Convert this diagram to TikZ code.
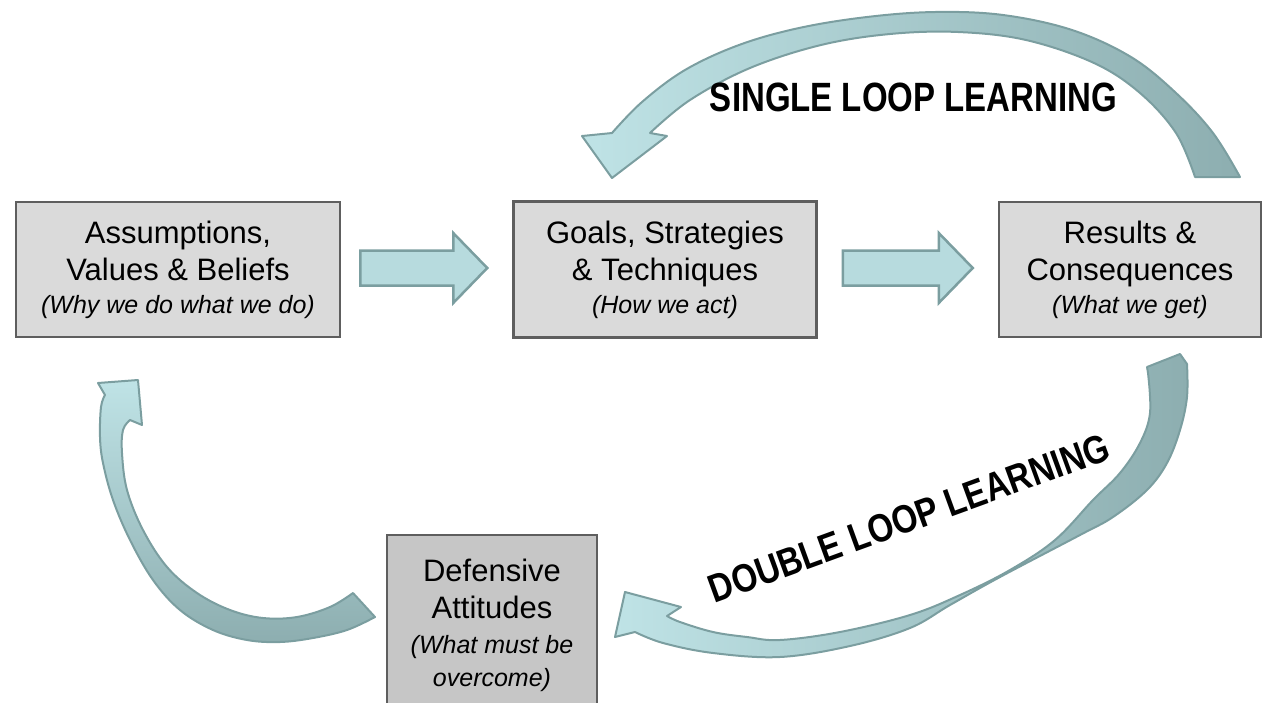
\documentclass[tikz,border=0pt]{standalone}
\usepackage{fontspec}
\setmainfont{Liberation Sans}
\usetikzlibrary{positioning,calc}

\definecolor{boxfill}{HTML}{DADADA}
\definecolor{boxfilldark}{HTML}{C6C6C6}
\definecolor{boxline}{HTML}{5E5E5E}
\definecolor{looplight}{HTML}{BFE3E6}
\definecolor{loopdark}{HTML}{8DAEB0}
\definecolor{loopline}{HTML}{7B9EA0}

\newcommand\subtext[1]{{\fontsize{25}{30}\selectfont\itshape #1}}
\newcommand\blockarrow[2]{%
  \draw[flow] ($(#1)+(0,-17.5)$) -- ($(#2)+(-34,-17.5)$) -- ($(#2)+(-34,-35)$)
    -- (#2) -- ($(#2)+(-34,35)$) -- ($(#2)+(-34,17.5)$) -- ($(#1)+(0,17.5)$) -- cycle;}

\begin{document}
\begin{tikzpicture}[x=1pt,y=-1pt,
  box/.style={draw=boxline, line width=2.5pt, fill=boxfill, align=center,
    inner sep=0pt, font=\fontsize{31}{37}\selectfont},
  flow/.style={draw=loopline, fill=looplight!85!loopdark, line width=2.5pt},
  bigloop/.style={draw=loopline, line width=2pt, line join=round},
  looplabel/.style={font=\bfseries\fontsize{33}{33}\selectfont, inner sep=0pt}]

\useasboundingbox (0,0) rectangle (1263,702);

% boxes
\node[box, minimum width=324pt, minimum height=135pt] (ass) at (178,269.5)
  {Assumptions,\\Values \& Beliefs\\[-4pt]\subtext{(Why we do what we do)}};
\node[box, minimum width=303pt, minimum height=136pt, right=171pt of ass] (goals)
  {Goals, Strategies\\\& Techniques\\[-4pt]\subtext{(How we act)}};
\node[box, minimum width=262pt, minimum height=135pt, right=180pt of goals] (res)
  {Results \&\\Consequences\\[-4pt]\subtext{(What we get)}};
\node[box, fill=boxfilldark, minimum width=210pt, minimum height=180pt] (def) at (492,625)
  {Defensive\\Attitudes\\[-2pt]\subtext{(What must be}\\[-4pt]\subtext{overcome)}};

% straight arrows
\coordinate (f1s) at ($(ass.east)+(19,-1.5)$);
\coordinate (f1e) at ($(goals.west)+(-25,-1.5)$);
\coordinate (f2s) at ($(goals.east)+(25,-1.5)$);
\coordinate (f2e) at ($(res.west)+(-25,-1.5)$);
\blockarrow{f1s}{f1e}
\blockarrow{f2s}{f2e}

% single loop: results -> goals
\draw[bigloop, left color=looplight, right color=loopdark]
  (1240,177) -- plot[smooth, tension=0.6] coordinates {(1240,177) (1213,133) (1176,93)
    (1131,57) (1072,30) (1003,15) (935,12) (867,17) (799,28) (739,45) (685,70) (642,102) (612,133)}
  -- (582,136) -- (612,178) -- (667,136) -- (650,133)
  -- plot[smooth, tension=0.6] coordinates {(650,133) (690,100) (750,68) (821,45)
    (890,34) (958,32) (1026,40) (1094,63) (1140,93) (1176,133) (1195,177)}
  -- cycle;
\node[looplabel] (single) at (913.5,97.5) {\scalebox{1}[1.24]{SINGLE LOOP LEARNING}};

% double loop: results -> defensive attitudes
\draw[bigloop, left color=looplight, right color=loopdark]
  (1180,354) -- plot[smooth, tension=0.6] coordinates {(1187,364) (1187,397) (1180,430)
    (1167,463) (1147,490) (1113,517) (1080,535) (1000,577) (950,605) (910,628) (850,646)
    (780,657) (713,653) (663,643) (635,632)}
  -- (615,637) -- (625,592) -- (681,607) -- (667,616)
  -- plot[smooth, tension=0.6] coordinates {(667,616) (680,622) (713,632) (747,637)
    (780,640) (840,632) (910,615) (960,595) (1010,570) (1055,540) (1093,500) (1120,473)
    (1140,443) (1150,413) (1148,373)}
  -- (1147,367) -- cycle;
\node[looplabel, rotate=20] (double) at (909,518) {\scalebox{1}[1.2]{DOUBLE LOOP LEARNING}};

% defensive attitudes -> assumptions
\draw[bigloop, top color=looplight, bottom color=loopdark]
  (375,617) -- plot[smooth, tension=0.6] coordinates {(375,617) (347,630) (313,638)
    (280,642) (247,640) (213,630) (180,610) (153,580) (130,540) (113,500) (103,463)
    (100,437) (101,407) (105,395)}
  -- (98,383) -- (138,380) -- (142,425) -- (130,420)
  -- plot[smooth, tension=0.6] coordinates {(130,420) (123,430) (122,453) (127,490)
    (143,530) (167,567) (197,593) (230,610) (263,618) (297,617) (330,607) (353,593)}
  -- cycle;
\end{tikzpicture}
\end{document}
